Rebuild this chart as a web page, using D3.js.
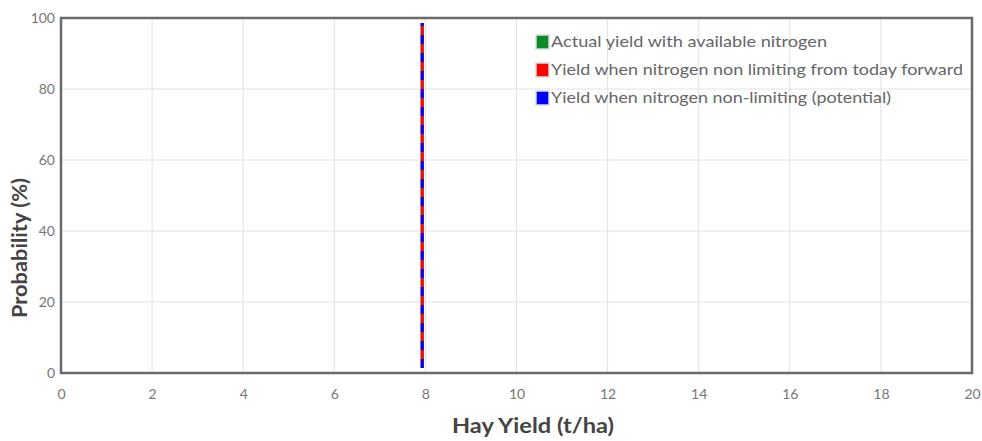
<!DOCTYPE html>
<html><head><meta charset="utf-8">
<script src="https://cdn.jsdelivr.net/npm/d3@7"></script>
<style>
html,body{margin:0;padding:0;background:#fff;}
svg{display:block;font-family:Lato,"Open Sans",sans-serif;}
</style></head>
<body><svg id="chart" width="982" height="441"></svg>
<script>
const xTicks = [0,2,4,6,8,10,12,14,16,18,20];
const yTicks = [0,20,40,60,80,100];
const seriesNames = ["Actual yield with available nitrogen","Yield when nitrogen non limiting from today forward","Yield when nitrogen non-limiting (potential)"];
const seriesColors = ["#0a8a2a","#ff0000","#0000ff"];
const probabilities = [1.4, 98.6];
const actualYield = [7.93, 7.93];
const todayForwardYield = [7.93, 7.93];
const potentialYield = [7.93, 7.93];
const xTitle = "Hay Yield (t/ha)";
const yTitle = "Probability (%)";

const svg = d3.select("#chart");
const m = {l:61, r:10, t:18, b:68};
const W = 982, H = 441;
const x = d3.scaleLinear().domain([0,20]).range([m.l, W-m.r]);
const y = d3.scaleLinear().domain([0,100]).range([H-m.b, m.t]);

// grid
svg.append("g").selectAll("line").data(xTicks).join("line")
  .attr("x1",d=>x(d)).attr("x2",d=>x(d)).attr("y1",y(0)).attr("y2",y(100))
  .attr("stroke","#e2e2e2").attr("stroke-width",1);
svg.append("g").selectAll("line").data(yTicks).join("line")
  .attr("x1",x(0)).attr("x2",x(20)).attr("y1",d=>y(d)).attr("y2",d=>y(d))
  .attr("stroke","#e2e2e2").attr("stroke-width",1);

// axes labels via d3 axes
const xAxis = svg.append("g").attr("transform",`translate(0,${y(0)})`)
  .call(d3.axisBottom(x).tickValues(xTicks).tickSize(0).tickPadding(16));
xAxis.select(".domain").remove();
xAxis.selectAll("text").attr("fill","#777").style("font-size","14px").style("font-family","Lato");
const yAxis = svg.append("g").attr("transform",`translate(${x(0)},0)`)
  .call(d3.axisLeft(y).tickValues(yTicks).tickSize(0).tickPadding(6));
yAxis.select(".domain").remove();
yAxis.selectAll("text").attr("fill","#777").style("font-size","14px").style("font-family","Lato");

// series lines
const line = d3.line().x(d=>x(d[0])).y(d=>y(d[1]));
const series = [actualYield, todayForwardYield, potentialYield];
const dashes = [null, null, "9,9"];
series.forEach((vals,i)=>{
  svg.append("path").datum(vals.map((v,j)=>[v, probabilities[j]]))
    .attr("d", line).attr("fill","none")
    .attr("stroke", seriesColors[i]).attr("stroke-width",3)
    .attr("stroke-dasharray", dashes[i]);
});

// frame
svg.append("rect").attr("x",x(0)).attr("y",y(100)).attr("width",x(20)-x(0)).attr("height",y(0)-y(100))
  .attr("fill","none").attr("stroke","#6a6a6a").attr("stroke-width",2.5);

// legend
const lg = svg.append("g").attr("transform","translate(536,42)");
const legendWidths = [276, 412, 340];
seriesNames.forEach((n,i)=>{
  const g = lg.append("g").attr("transform",`translate(0,${i*28})`);
  g.append("rect").attr("x",0).attr("y",-7).attr("width",13).attr("height",14)
    .attr("fill",seriesColors[i]).attr("stroke","#ddd").attr("stroke-width",1.5);
  g.append("text").attr("x",15).attr("y",0).attr("dy","0.35em")
    .attr("fill","#666").style("font-size","15px").attr("textLength",legendWidths[i])
    .attr("lengthAdjust","spacingAndGlyphs").text(n);
});

// titles
svg.append("text").attr("x",452).attr("y",426).attr("dy","0.35em")
  .attr("text-anchor","start").attr("fill","#444").style("font-size","21px").style("font-weight","bold")
  .attr("textLength",162).attr("lengthAdjust","spacingAndGlyphs").text(xTitle);
svg.append("text").attr("transform",`translate(20,318) rotate(-90)`).attr("dy","0.35em")
  .attr("text-anchor","start").attr("fill","#444").style("font-size","21px").style("font-weight","bold")
  .attr("textLength",140).attr("lengthAdjust","spacingAndGlyphs").text(yTitle);
</script></body></html>
